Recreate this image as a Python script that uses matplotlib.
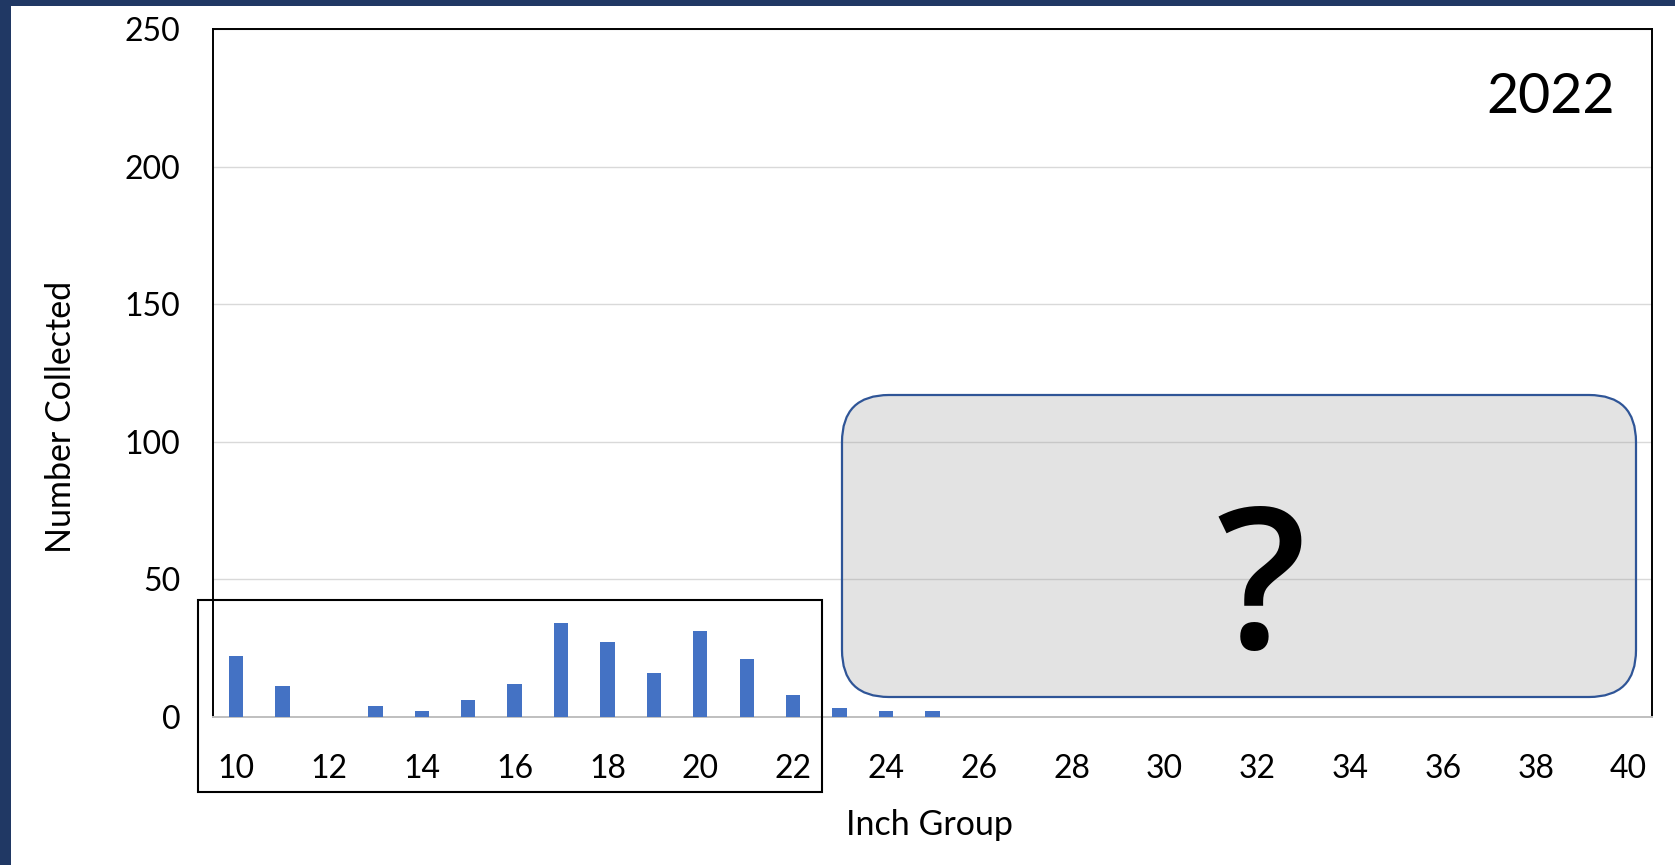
import matplotlib
matplotlib.use("Agg")
import matplotlib.pyplot as plt
from matplotlib.patches import FancyBboxPatch, Rectangle
from matplotlib.transforms import IdentityTransform

plt.rcParams['font.family'] = ['Lato', 'DejaVu Sans']

# Data
inch_groups = list(range(10, 41))
counts = [22, 11, 0, 4, 2, 6, 12, 34, 27, 16, 31, 21, 8, 3, 2, 2,
          0, 0, 0, 0, 0, 0, 0, 0, 0, 0, 0, 0, 0, 0, 0]
y_ticks = [0, 50, 100, 150, 200, 250]
x_tick_labels = list(range(10, 41, 2))
year_label = "2022"

W, H = 1675, 865
fig = plt.figure(figsize=(W / 100, H / 100), dpi=100)
fig.patch.set_facecolor('white')

ax = fig.add_axes([213 / W, (H - 716.7) / H, (1651.7 - 213) / W, (716.7 - 29) / H])
ax.bar(inch_groups, counts, width=0.31, color='#4472c4', zorder=3)
ax.set_xlim(9.5, 40.5)
ax.set_ylim(0, 250)
ax.set_yticks(y_ticks)
ax.set_xticks(x_tick_labels)
ax.set_xticklabels([str(v) for v in x_tick_labels])
ax.tick_params(axis='y', length=0, pad=23.5, labelsize=23)
ax.tick_params(axis='x', length=0, pad=27, labelsize=23)
ax.grid(axis='y', color='#d9d9d9', linewidth=1.0, zorder=0)
ax.set_axisbelow(True)
for s in ['left', 'top', 'right']:
    ax.spines[s].set_color('black')
    ax.spines[s].set_linewidth(1.4)
ax.spines['bottom'].set_color('#bfbfbf')
ax.spines['bottom'].set_linewidth(1.4)

# Axis titles
fig.text(61 / W, 1 - 416.5 / H, "Number Collected", rotation=90,
         ha='center', va='center', fontsize=24.5)
fig.text(930 / W, 1 - 825 / H, "Inch Group", ha='center', va='center', fontsize=24.5)

# Year label
fig.text(1615 / W, 1 - 113 / H, year_label, ha='right', va='baseline', fontsize=40)

# Rounded grey box with question mark
box = FancyBboxPatch((842, H - 697), 1636 - 842, 697 - 395,
                     boxstyle="round,pad=0,rounding_size=47",
                     facecolor=(0.59, 0.59, 0.59, 0.26), edgecolor='#2f5597',
                     linewidth=1.6, transform=IdentityTransform(), zorder=5)
fig.patches.append(box)
fig.text(1261 / W, (H - 648) / H, "?", ha='center', va='baseline',
         fontsize=142, fontweight='semibold', family=['Open Sans', 'DejaVu Sans'], zorder=6)

# Black highlight rectangle
rect = Rectangle((198, H - 792), 822 - 198, 792 - 600, fill=False,
                 edgecolor='black', linewidth=1.5, transform=IdentityTransform(), zorder=6)
fig.patches.append(rect)

# Navy frame (top and left)
fig.patches.append(Rectangle((0, H - 6), W, 6, facecolor='#203864', edgecolor='none',
                             transform=IdentityTransform(), zorder=7))
fig.patches.append(Rectangle((0, 0), 11, H, facecolor='#203864', edgecolor='none',
                             transform=IdentityTransform(), zorder=7))

fig.savefig("out.png", dpi=100, facecolor='white')
